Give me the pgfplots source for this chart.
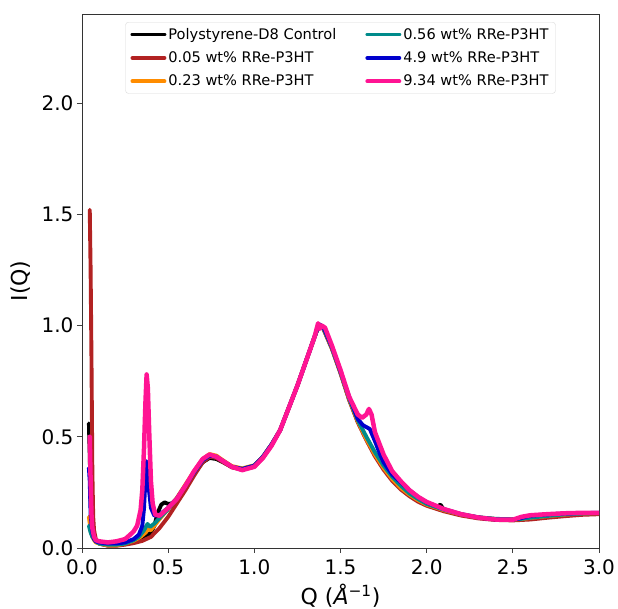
\documentclass[border=0pt]{standalone}
\usepackage{fontspec}
\setmainfont{DejaVu Sans}
\usepackage{pgfplots}
\pgfplotsset{compat=1.18}
\definecolor{cBlack}{HTML}{000000}
\definecolor{cRed}{HTML}{B22222}
\definecolor{cOrange}{HTML}{FF8C00}
\definecolor{cTeal}{HTML}{008B8B}
\definecolor{cBlue}{HTML}{0000CD}
\definecolor{cPink}{HTML}{FF1493}
\begin{document}
\begin{tikzpicture}
\begin{axis}[name=ax,
  width=517pt, height=534pt, scale only axis,
  xmin=0, xmax=3, ymin=0, ymax=2.4,
  xtick={0,0.5,1,1.5,2,2.5,3}, ytick={0,0.5,1,1.5,2},
  tick align=outside, tick pos=left, major tick length=5pt,
  axis line style={black!80, line width=0.9pt},
  every tick/.style={black!75, line width=0.9pt},
  /pgf/number format/assume math mode=true,
  xticklabel style={/pgf/number format/.cd, fixed, fixed zerofill, precision=1, /tikz/.cd, yshift=-3pt},
  yticklabel style={/pgf/number format/.cd, fixed, fixed zerofill, precision=1},
  tick label style={font=\fontsize{20}{24}\selectfont},
  label style={font=\fontsize{22}{26}\selectfont},
  xlabel={Q (\textit{Å}\textsuperscript{−1})},
  xlabel style={yshift=-2.5pt},
  ylabel={I(Q)},
  ylabel style={yshift=4pt},
  legend columns=2,
  legend cell align=left,
  legend style={at={(0.5,0.985)}, anchor=north, draw=black!15, rounded corners=3pt,
    font=\fontsize{14.6}{17}\selectfont, inner xsep=5pt, inner ysep=4pt,
    /tikz/every even column/.append style={column sep=27pt},
    row sep=7pt},
  legend image code/.code={\draw[#1] (0pt,0pt) -- (32pt,0pt);},
  every axis plot/.append style={line width=3.9pt, line join=round, line cap=round},
]
\addlegendimage{cBlack, line width=3.9pt}\addlegendentry{Polystyrene-D8 Control}
\addlegendimage{cTeal, line width=3.9pt}\addlegendentry{0.56 wt\% RRe-P3HT}
\addlegendimage{cRed, line width=3.9pt}\addlegendentry{0.05 wt\% RRe-P3HT}
\addlegendimage{cBlue, line width=3.9pt}\addlegendentry{4.9 wt\% RRe-P3HT}
\addlegendimage{cOrange, line width=3.9pt}\addlegendentry{0.23 wt\% RRe-P3HT}
\addlegendimage{cPink, line width=3.9pt}\addlegendentry{9.34 wt\% RRe-P3HT}
% Polystyrene-D8 Control
\addplot[cBlack, forget plot] coordinates {(0.04,0.56)(0.045,0.42)(0.05,0.22)(0.055,0.12)(0.06,0.07)(0.07,0.04)(0.08,0.03)(0.1,0.02)(0.15,0.012)(0.2,0.012)(0.25,0.02)(0.3,0.03)(0.35,0.045)(0.38,0.055)(0.4,0.07)(0.42,0.1)(0.44,0.16)(0.46,0.195)(0.48,0.205)(0.5,0.198)(0.52,0.2)(0.55,0.22)(0.6,0.275)(0.65,0.335)(0.7,0.385)(0.74,0.405)(0.78,0.4)(0.82,0.385)(0.87,0.365)(0.93,0.355)(1.0,0.37)(1.05,0.41)(1.1,0.465)(1.15,0.53)(1.2,0.63)(1.25,0.73)(1.3,0.84)(1.35,0.95)(1.375,1.005)(1.4,0.99)(1.45,0.9)(1.5,0.79)(1.55,0.67)(1.6,0.57)(1.65,0.49)(1.7,0.42)(1.75,0.36)(1.8,0.31)(1.85,0.27)(1.9,0.24)(1.95,0.215)(2.0,0.195)(2.05,0.18)(2.08,0.195)(2.1,0.172)(2.2,0.15)(2.3,0.137)(2.4,0.13)(2.5,0.128)(2.55,0.13)(2.6,0.135)(2.7,0.143)(2.8,0.15)(2.9,0.155)(3.0,0.157)};
% 0.05 wt%
\addplot[cRed, forget plot] coordinates {(0.045,1.52)(0.05,1.25)(0.055,0.85)(0.06,0.35)(0.065,0.14)(0.07,0.08)(0.08,0.04)(0.1,0.02)(0.15,0.01)(0.2,0.01)(0.25,0.015)(0.3,0.022)(0.35,0.032)(0.4,0.05)(0.45,0.09)(0.5,0.14)(0.55,0.2)(0.6,0.26)(0.65,0.325)(0.7,0.385)(0.74,0.41)(0.78,0.405)(0.82,0.385)(0.87,0.362)(0.93,0.352)(1.0,0.365)(1.05,0.405)(1.1,0.46)(1.15,0.53)(1.2,0.63)(1.25,0.73)(1.3,0.84)(1.35,0.95)(1.375,1.0)(1.4,0.985)(1.45,0.895)(1.5,0.785)(1.55,0.665)(1.6,0.565)(1.65,0.485)(1.7,0.412)(1.75,0.352)(1.8,0.302)(1.85,0.263)(1.9,0.233)(1.95,0.208)(2.0,0.19)(2.1,0.165)(2.2,0.146)(2.3,0.133)(2.4,0.126)(2.5,0.124)(2.6,0.128)(2.7,0.136)(2.8,0.143)(2.9,0.149)(3.0,0.152)};
% 0.23 wt%
\addplot[cOrange, forget plot] coordinates {(0.04,0.14)(0.05,0.08)(0.06,0.05)(0.07,0.035)(0.08,0.025)(0.1,0.02)(0.15,0.012)(0.2,0.012)(0.25,0.02)(0.3,0.033)(0.34,0.05)(0.37,0.07)(0.38,0.085)(0.4,0.08)(0.42,0.1)(0.45,0.13)(0.5,0.175)(0.55,0.225)(0.6,0.285)(0.65,0.345)(0.7,0.4)(0.74,0.422)(0.78,0.415)(0.82,0.393)(0.87,0.368)(0.93,0.358)(1.0,0.372)(1.05,0.41)(1.1,0.465)(1.15,0.53)(1.2,0.63)(1.25,0.73)(1.3,0.84)(1.35,0.95)(1.375,1.005)(1.4,0.99)(1.45,0.9)(1.5,0.79)(1.55,0.67)(1.6,0.57)(1.65,0.49)(1.7,0.42)(1.75,0.36)(1.8,0.31)(1.85,0.27)(1.9,0.24)(1.95,0.215)(2.0,0.195)(2.1,0.17)(2.2,0.15)(2.3,0.137)(2.4,0.13)(2.5,0.128)(2.55,0.13)(2.6,0.135)(2.7,0.143)(2.8,0.15)(2.9,0.155)(3.0,0.157)};
% 0.56 wt%
\addplot[cTeal, forget plot] coordinates {(0.04,0.1)(0.05,0.07)(0.06,0.05)(0.08,0.03)(0.1,0.02)(0.15,0.015)(0.2,0.015)(0.25,0.02)(0.3,0.035)(0.33,0.05)(0.36,0.08)(0.38,0.108)(0.395,0.095)(0.42,0.11)(0.45,0.135)(0.5,0.175)(0.55,0.222)(0.6,0.28)(0.65,0.34)(0.7,0.395)(0.74,0.415)(0.78,0.41)(0.82,0.39)(0.87,0.365)(0.93,0.355)(1.0,0.37)(1.05,0.41)(1.1,0.465)(1.15,0.53)(1.2,0.63)(1.25,0.73)(1.3,0.84)(1.35,0.95)(1.375,1.005)(1.4,0.99)(1.45,0.9)(1.5,0.79)(1.55,0.672)(1.6,0.575)(1.65,0.5)(1.7,0.43)(1.75,0.37)(1.8,0.32)(1.85,0.28)(1.9,0.245)(1.95,0.22)(2.0,0.198)(2.1,0.172)(2.2,0.152)(2.3,0.138)(2.4,0.131)(2.5,0.129)(2.55,0.131)(2.6,0.136)(2.7,0.144)(2.8,0.151)(2.9,0.155)(3.0,0.157)};
% 4.9 wt%
\addplot[cBlue, forget plot] coordinates {(0.04,0.36)(0.045,0.3)(0.05,0.15)(0.06,0.07)(0.07,0.04)(0.08,0.03)(0.1,0.025)(0.15,0.02)(0.2,0.02)(0.25,0.025)(0.3,0.04)(0.33,0.06)(0.35,0.1)(0.36,0.18)(0.37,0.34)(0.375,0.39)(0.38,0.36)(0.39,0.25)(0.4,0.18)(0.42,0.145)(0.45,0.15)(0.5,0.18)(0.55,0.222)(0.6,0.28)(0.65,0.34)(0.7,0.395)(0.74,0.415)(0.78,0.41)(0.82,0.39)(0.87,0.365)(0.93,0.355)(1.0,0.37)(1.05,0.41)(1.1,0.465)(1.15,0.53)(1.2,0.63)(1.25,0.73)(1.3,0.84)(1.35,0.95)(1.375,1.005)(1.4,0.995)(1.45,0.905)(1.5,0.795)(1.55,0.68)(1.6,0.58)(1.63,0.552)(1.67,0.535)(1.7,0.48)(1.73,0.42)(1.75,0.385)(1.8,0.33)(1.85,0.295)(1.9,0.26)(1.95,0.23)(2.0,0.205)(2.1,0.175)(2.2,0.152)(2.3,0.137)(2.4,0.128)(2.5,0.127)(2.55,0.135)(2.6,0.145)(2.7,0.151)(2.8,0.155)(2.9,0.157)(3.0,0.158)};
% 9.34 wt%
\addplot[cPink, line width=4.5pt, forget plot] coordinates {(0.045,0.5)(0.05,0.3)(0.055,0.15)(0.06,0.09)(0.07,0.05)(0.08,0.035)(0.1,0.03)(0.15,0.025)(0.2,0.03)(0.25,0.04)(0.28,0.06)(0.3,0.075)(0.32,0.1)(0.34,0.17)(0.35,0.26)(0.36,0.45)(0.368,0.65)(0.375,0.78)(0.382,0.72)(0.39,0.52)(0.4,0.3)(0.41,0.2)(0.425,0.15)(0.45,0.145)(0.5,0.18)(0.55,0.22)(0.6,0.28)(0.65,0.345)(0.7,0.4)(0.74,0.42)(0.78,0.41)(0.82,0.39)(0.87,0.365)(0.93,0.35)(1.0,0.365)(1.05,0.405)(1.1,0.46)(1.15,0.53)(1.2,0.63)(1.25,0.73)(1.3,0.84)(1.35,0.95)(1.37,1.01)(1.38,0.985)(1.39,1.0)(1.41,0.99)(1.45,0.91)(1.5,0.8)(1.55,0.68)(1.6,0.6)(1.625,0.585)(1.65,0.6)(1.665,0.625)(1.68,0.6)(1.7,0.52)(1.75,0.42)(1.8,0.345)(1.85,0.3)(1.9,0.26)(1.95,0.23)(2.0,0.207)(2.1,0.175)(2.2,0.152)(2.3,0.137)(2.4,0.128)(2.5,0.127)(2.55,0.14)(2.6,0.147)(2.7,0.152)(2.8,0.156)(2.9,0.158)(3.0,0.158)};
\end{axis}
\pgfresetboundingbox
\useasboundingbox ([xshift=-82pt,yshift=-61pt]ax.south west) rectangle ([xshift=19pt,yshift=14pt]ax.north east);
\end{tikzpicture}
\end{document}
